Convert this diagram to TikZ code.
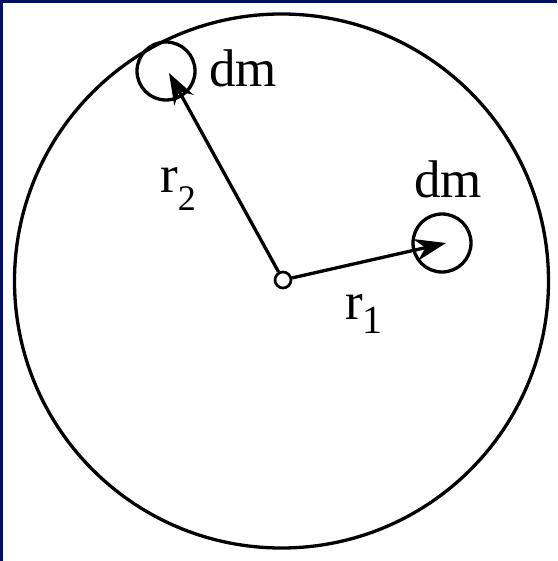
\documentclass[tikz,border=0pt]{standalone}
\usepackage{fontspec}
\setmainfont{Liberation Serif}
\usetikzlibrary{arrows.meta}
\definecolor{navy}{RGB}{0,16,92}
\tikzset{
  ring/.style={draw=black, circle, line width=3.3pt, inner sep=0pt},
  lbl/.style={inner sep=0pt, anchor=base west, font=\fontsize{53}{62}\selectfont},
  vec/.style={line width=3.3pt, -{Stealth[length=31pt,width=22pt,inset=10pt]}}
}
\begin{document}
\begin{tikzpicture}[x=1pt,y=-1pt]
\useasboundingbox (0,0) rectangle (557,561);
\fill[white] (0,0) rectangle (557,561);
\fill[navy] (0,0) rectangle (557,3);
\fill[navy] (0,0) rectangle (3,561);
% big disc
\node[ring, minimum size=534pt] (disc) at (281.5,281) {};
% small elements
\node[ring, minimum size=58pt] (dm1) at (442,243) {};
\node[ring, minimum size=58pt] (dm2) at (166,71) {};
\node[draw, circle, line width=2.7pt, minimum size=16pt, inner sep=0pt] (o) at (283,280) {};
\coordinate (t1) at (446,243);
\coordinate (t2) at (169,73);
\draw[vec] (o) -- (t1);
\draw[vec] (o) -- (t2);
% labels
\node[lbl] (ldm2) at (209,87) {dm};
\node[lbl] (ldm1) at (414,197) {dm};
\node[lbl] (lr2) at (160,193) {r\raisebox{-18pt}{\fontsize{36}{42}\selectfont 2}};
\node[lbl] (lr1) at (345,319) {r\raisebox{-14pt}{\fontsize{40}{46}\selectfont 1}};
\end{tikzpicture}
\end{document}
